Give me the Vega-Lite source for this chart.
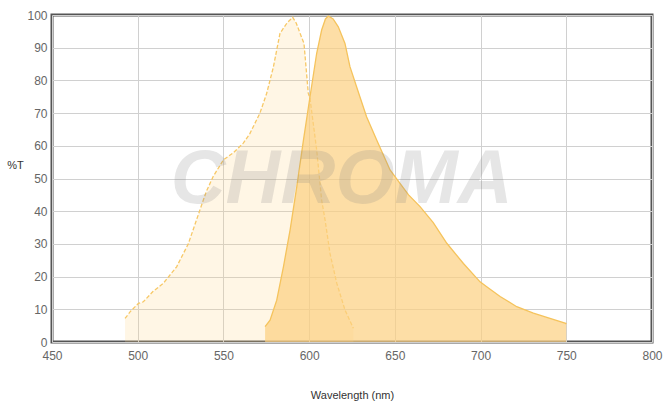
{
  "$schema": "https://vega.github.io/schema/vega-lite/v6.json",
  "autosize": "none",
  "width": 600,
  "height": 327,
  "padding": {"left": 52, "top": 15, "right": 15, "bottom": 62},
  "background": "white",
  "config": {
    "view": {"stroke": "#555555", "strokeWidth": 3},
    "font": "Liberation Sans"
  },
  "datasets": {
    "excitation": [
      {"wl": 492.6, "t": 7.2}, {"wl": 496, "t": 9.5}, {"wl": 500.4, "t": 11.8}, {"wl": 503.3, "t": 12.3},
      {"wl": 509, "t": 15.5}, {"wl": 515, "t": 18}, {"wl": 522.7, "t": 23}, {"wl": 529.5, "t": 30},
      {"wl": 536.3, "t": 40.4}, {"wl": 540, "t": 46}, {"wl": 544, "t": 50.6}, {"wl": 550, "t": 55.7},
      {"wl": 555.8, "t": 57.9}, {"wl": 561.6, "t": 60.8}, {"wl": 565.5, "t": 63.8}, {"wl": 571.3, "t": 70},
      {"wl": 575.2, "t": 76}, {"wl": 579.1, "t": 84}, {"wl": 583, "t": 94.4}, {"wl": 587, "t": 97.5},
      {"wl": 590.4, "t": 99.3}, {"wl": 592.5, "t": 97.5}, {"wl": 594.7, "t": 94.4}, {"wl": 597, "t": 91.3},
      {"wl": 599.5, "t": 76}, {"wl": 600.5, "t": 74.5}, {"wl": 604.4, "t": 58.7}, {"wl": 607.3, "t": 43.4},
      {"wl": 609.3, "t": 37.3}, {"wl": 612.2, "t": 27}, {"wl": 616.1, "t": 18}, {"wl": 620.9, "t": 9.8},
      {"wl": 625.8, "t": 4.2}
    ],
    "emission": [
      {"wl": 574.3, "t": 4.7}, {"wl": 577.2, "t": 6.7}, {"wl": 581.1, "t": 12.8}, {"wl": 585, "t": 23},
      {"wl": 588.9, "t": 34.3}, {"wl": 592.8, "t": 47.5}, {"wl": 596.7, "t": 61.8}, {"wl": 600.5, "t": 75},
      {"wl": 604.4, "t": 88.3}, {"wl": 607.3, "t": 95.4}, {"wl": 609.5, "t": 98.8}, {"wl": 611.2, "t": 99.7},
      {"wl": 614, "t": 98.8}, {"wl": 617, "t": 96.4}, {"wl": 620.9, "t": 91.3}, {"wl": 623.8, "t": 84.2},
      {"wl": 629.6, "t": 75}, {"wl": 633.5, "t": 68.9}, {"wl": 639.4, "t": 61.8}, {"wl": 647.2, "t": 52.6},
      {"wl": 653, "t": 48.5}, {"wl": 658, "t": 45}, {"wl": 664.7, "t": 41.4}, {"wl": 672.4, "t": 36.5},
      {"wl": 680.3, "t": 30.2}, {"wl": 690, "t": 24}, {"wl": 699.7, "t": 18.4}, {"wl": 703.6, "t": 16.9},
      {"wl": 711.4, "t": 13.9}, {"wl": 721.1, "t": 10.8}, {"wl": 730.8, "t": 8.8}, {"wl": 740.5, "t": 7.2},
      {"wl": 749.7, "t": 5.7}, {"wl": 750, "t": 5.5}
    ],
    "watermark": [
      {"label": "CHROMA", "wl": 619, "t": 49.5}
    ]
  },
  "encoding": {
    "x": {
      "field": "wl", "type": "quantitative",
      "scale": {"domain": [450, 800], "nice": false, "zero": false},
      "axis": {
        "values": [450, 500, 550, 600, 650, 700, 750, 800],
        "title": "Wavelength (nm)", "titleFontWeight": "normal", "titleFontSize": 11,
        "titleColor": "#333333", "titleY": 53, "titleBaseline": "middle",
        "labelColor": "#666666", "labelFontSize": 12, "labelPadding": 8,
        "ticks": false, "domain": false, "gridColor": "#d0d0d0", "labelFlush": false
      }
    },
    "y": {
      "field": "t", "type": "quantitative",
      "scale": {"domain": [0, 100], "nice": false},
      "axis": {
        "values": [0, 10, 20, 30, 40, 50, 60, 70, 80, 90, 100],
        "title": "%T", "titleAngle": 0, "titleFontWeight": "normal", "titleFontSize": 11,
        "titleColor": "#333333", "titleX": -37, "titleY": 150, "titleAlign": "center", "titleBaseline": "middle",
        "labelColor": "#666666", "labelFontSize": 12, "labelPadding": 5,
        "ticks": false, "domain": false, "gridColor": "#d0d0d0", "labelFlush": false
      }
    }
  },
  "layer": [
    {
      "data": {"name": "excitation"},
      "mark": {"type": "area", "color": "#fdd58a", "opacity": 0.22, "interpolate": "linear"}
    },
    {
      "data": {"name": "excitation"},
      "mark": {"type": "line", "color": "#f7c866", "strokeWidth": 1.3, "strokeDash": [4, 2]}
    },
    {
      "data": {"name": "emission"},
      "mark": {"type": "area", "color": "#fcd080", "opacity": 0.7}
    },
    {
      "data": {"name": "emission"},
      "mark": {"type": "line", "color": "#f5c35c", "strokeWidth": 1.3}
    },
    {
      "data": {"name": "watermark"},
      "mark": {"type": "text", "fontSize": 76, "fontWeight": "bold", "fontStyle": "italic", "font": "Liberation Sans", "fill": "#808080", "fillOpacity": 0.2, "align": "center", "baseline": "middle"},
      "encoding": {
        "text": {"field": "label", "type": "nominal"}
      }
    }
  ]
}
